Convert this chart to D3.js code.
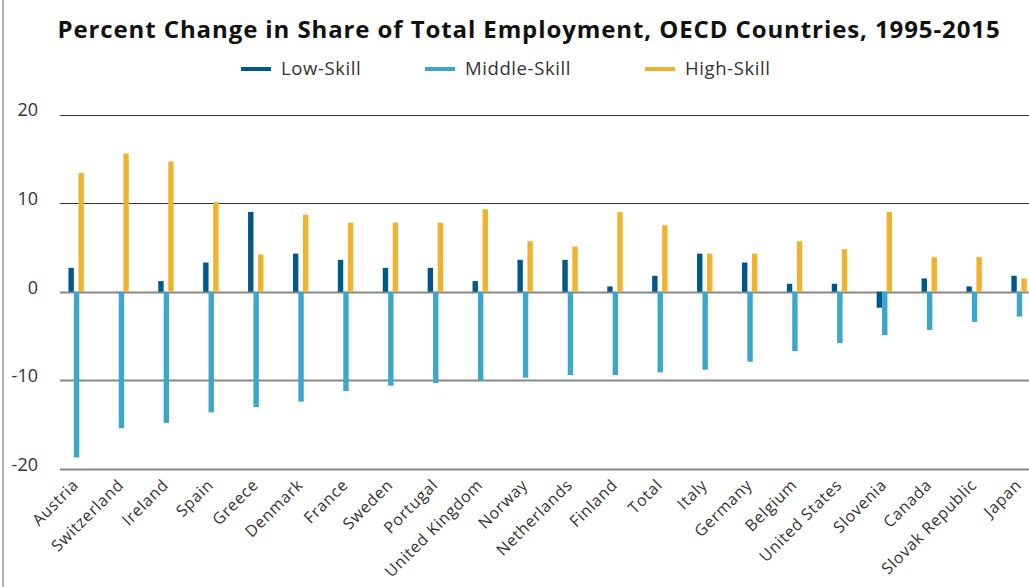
<!DOCTYPE html>
<html>
<head>
<meta charset="utf-8">
<script src="https://cdn.jsdelivr.net/npm/d3@7"></script>
<style>
  body { margin: 0; background: #fff; }
  text { font-family: "Open Sans", "Noto Sans", sans-serif; fill: #333; }
</style>
</head>
<body>
<script>
var countries = ["Austria", "Switzerland", "Ireland", "Spain", "Greece", "Denmark", "France",
  "Sweden", "Portugal", "United Kingdom", "Norway", "Netherlands", "Finland", "Total", "Italy",
  "Germany", "Belgium", "United States", "Slovenia", "Canada", "Slovak Republic", "Japan"];
var lowSkill = [2.7, 0, 1.2, 3.3, 9.0, 4.3, 3.6, 2.7, 2.7, 1.2, 3.6, 3.6, 0.6, 1.8, 4.3,
  3.3, 0.9, 0.9, -1.8, 1.5, 0.6, 1.8];
var middleSkill = [-18.7, -15.4, -14.8, -13.6, -13.0, -12.4, -11.2, -10.6, -10.3, -10.0, -9.7,
  -9.4, -9.4, -9.1, -8.8, -7.9, -6.7, -5.8, -4.9, -4.3, -3.4, -2.8];
var highSkill = [13.4, 15.6, 14.7, 10.1, 4.2, 8.7, 7.8, 7.8, 7.8, 9.3, 5.7, 5.1, 9.0, 7.5, 4.3,
  4.3, 5.7, 4.8, 9.0, 3.9, 3.9, 1.5];
var seriesNames = ["Low-Skill", "Middle-Skill", "High-Skill"];
var yTicks = [20, 10, 0, -10, -20];

var width = 1029, height = 587;
var colors = ["#00578a", "#3ca6cc", "#f2b32c"];

var svg = d3.select("body").append("svg")
  .attr("width", width)
  .attr("height", height);

// left frame line
svg.append("line")
  .attr("x1", 3).attr("x2", 3)
  .attr("y1", 0).attr("y2", height)
  .attr("stroke", "#999").attr("stroke-width", 1.5);

var x = d3.scaleBand().domain(countries).range([54.2, 1042]).padding(0);
var y = d3.scaleLinear().domain([-20, 20]).range([469, 114.5]);

// gridlines
svg.append("g").selectAll("line")
  .data(yTicks)
  .join("line")
  .attr("x1", 60).attr("x2", width)
  .attr("y1", function (d) { return Math.round(y(d)) + 0.5; })
  .attr("y2", function (d) { return Math.round(y(d)) + 0.5; })
  .attr("stroke", function (d) { return d > 0 ? "#333" : "#888"; })
  .attr("stroke-width", function (d) { return d > 0 ? 1.2 : 2; });

svg.append("g").selectAll("text")
  .data(yTicks)
  .join("text")
  .attr("x", 38)
  .attr("y", function (d) { return y(d); })
  .attr("dy", "0.1em")
  .attr("text-anchor", "end")
  .style("font-size", "18px")
  .text(function (d) { return d; });

// bars
var data = [lowSkill, middleSkill, highSkill];
var offsets = [-8.2, -2.8, 1.8];
var barW = 5.4;

data.forEach(function (vals, si) {
  svg.append("g").selectAll("rect")
    .data(vals)
    .join("rect")
    .attr("x", function (d, i) { return x(countries[i]) + x.bandwidth() / 2 + offsets[si]; })
    .attr("y", function (d) { return y(Math.max(0, d)); })
    .attr("width", barW)
    .attr("height", function (d) { return Math.abs(y(d) - y(0)); })
    .attr("fill", colors[si]);
});

// x labels
svg.append("g").selectAll("text")
  .data(countries)
  .join("text")
  .attr("transform", function (d) {
    var cx = x(d) + x.bandwidth() / 2 + 3;
    return "translate(" + cx + ",486) rotate(-45)";
  })
  .attr("text-anchor", "end")
  .style("font-size", "16px")
  .style("letter-spacing", "0.7px")
  .text(function (d) { return d; });

// title
svg.append("text")
  .attr("x", 529)
  .attr("y", 38)
  .attr("text-anchor", "middle")
  .style("font-size", "24px")
  .style("font-weight", "bold")
  .style("letter-spacing", "0.9px")
  .style("fill", "#111")
  .text("Percent Change in Share of Total Employment, OECD Countries, 1995-2015");

// legend
var legendX = [241, 425, 645];
var legend = svg.append("g").selectAll("g")
  .data(seriesNames)
  .join("g")
  .attr("transform", function (d, i) { return "translate(" + legendX[i] + ",69)"; });

legend.append("line")
  .attr("x1", 0).attr("x2", 30)
  .attr("stroke", function (d, i) { return colors[i]; })
  .attr("stroke-width", 4);

legend.append("text")
  .attr("x", 40)
  .attr("dy", "0.35em")
  .style("font-size", "18.5px")
  .style("letter-spacing", "0.6px")
  .text(function (d) { return d; });
</script>
</body>
</html>
